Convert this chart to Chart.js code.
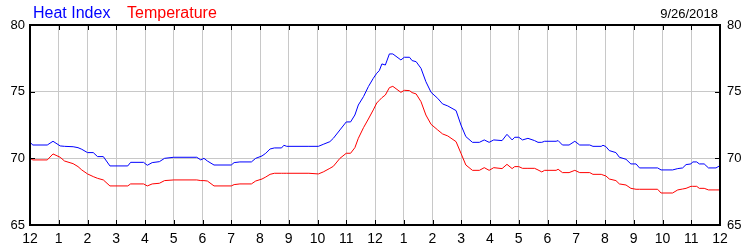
<!DOCTYPE html>
<html>
<head>
<meta charset="utf-8">
<script src="https://cdn.jsdelivr.net/npm/chart.js@4/dist/chart.umd.min.js"></script>
<style>
  html, body { margin: 0; padding: 0; background: #fff; }
  #wrap { width: 750px; height: 250px; }
</style>
</head>
<body>
<div id="wrap"><canvas id="chart" width="750" height="250"></canvas></div>
<script>
// hours since midnight
const hours = [0.0, 0.1, 0.6, 0.8, 1.05, 1.2, 1.5, 1.67, 1.8, 2.0, 2.2, 2.35, 2.55, 2.78, 3.4, 3.5, 3.95, 4.08, 4.25, 4.5, 4.68, 5.0, 5.8, 5.94, 6.05, 6.17, 6.4, 7.0, 7.1, 7.3, 7.7, 7.85, 8.07, 8.2, 8.35, 8.5, 8.75, 8.83, 8.93, 9.7, 10.03, 10.2, 10.43, 10.55, 10.78, 11.0, 11.15, 11.3, 11.42, 11.6, 11.77, 11.94, 12.06, 12.15, 12.24, 12.36, 12.5, 12.62, 12.9, 13.02, 13.2, 13.29, 13.43, 13.6, 13.77, 13.95, 14.18, 14.35, 14.53, 14.82, 14.99, 15.16, 15.39, 15.63, 15.8, 15.97, 16.13, 16.42, 16.59, 16.77, 16.86, 17.0, 17.13, 17.32, 17.55, 17.67, 17.8, 17.9, 18.3, 18.37, 18.52, 18.75, 18.95, 19.12, 19.47, 19.58, 19.87, 19.93, 20.03, 20.15, 20.38, 20.5, 20.73, 20.9, 21.08, 21.2, 21.83, 21.95, 22.35, 22.53, 22.7, 22.82, 22.99, 23.05, 23.19, 23.28, 23.45, 23.6, 23.86, 23.98];

const heatIndex = [71.2, 71.0, 71.0, 71.28, 70.93, 70.9, 70.87, 70.8, 70.68, 70.43, 70.43, 70.13, 70.13, 69.43, 69.43, 69.7, 69.7, 69.48, 69.68, 69.75, 70.0, 70.08, 70.08, 69.88, 70.0, 69.8, 69.5, 69.5, 69.68, 69.73, 69.73, 70.0, 70.18, 70.38, 70.7, 70.78, 70.78, 70.98, 70.9, 70.9, 70.9, 71.05, 71.25, 71.5, 72.13, 72.73, 72.73, 73.25, 74.0, 74.63, 75.38, 76.0, 76.38, 76.58, 77.08, 77.0, 77.83, 77.83, 77.38, 77.58, 77.58, 77.33, 77.25, 76.75, 75.75, 74.95, 74.5, 74.08, 73.93, 73.58, 72.5, 71.63, 71.2, 71.2, 71.38, 71.2, 71.38, 71.33, 71.8, 71.38, 71.58, 71.58, 71.38, 71.5, 71.33, 71.2, 71.2, 71.28, 71.28, 71.33, 71.0, 71.0, 71.28, 71.0, 71.0, 70.9, 70.9, 70.98, 70.88, 70.58, 70.43, 70.08, 69.93, 69.58, 69.58, 69.28, 69.28, 69.13, 69.13, 69.23, 69.28, 69.53, 69.58, 69.73, 69.73, 69.58, 69.58, 69.28, 69.28, 69.43];

const temperature = [70.0, 69.88, 69.88, 70.33, 70.08, 69.8, 69.6, 69.38, 69.13, 68.83, 68.63, 68.5, 68.38, 67.93, 67.93, 68.08, 68.08, 67.93, 68.08, 68.13, 68.33, 68.38, 68.38, 68.33, 68.33, 68.3, 67.93, 67.93, 68.03, 68.08, 68.08, 68.3, 68.45, 68.6, 68.8, 68.88, 68.88, 68.88, 68.88, 68.88, 68.83, 68.98, 69.25, 69.4, 70.0, 70.38, 70.38, 70.8, 71.5, 72.3, 72.95, 73.63, 74.15, 74.35, 74.55, 74.75, 75.3, 75.4, 74.95, 75.1, 75.08, 74.93, 74.83, 74.25, 73.25, 72.55, 72.13, 71.83, 71.68, 71.25, 70.38, 69.5, 69.1, 69.1, 69.3, 69.1, 69.3, 69.23, 69.55, 69.23, 69.38, 69.38, 69.25, 69.25, 69.25, 69.13, 68.98, 69.1, 69.1, 69.18, 68.93, 68.93, 69.1, 68.93, 68.93, 68.8, 68.8, 68.75, 68.68, 68.45, 68.33, 68.08, 68.0, 67.75, 67.68, 67.68, 67.68, 67.4, 67.4, 67.63, 67.7, 67.75, 67.9, 67.9, 67.9, 67.75, 67.75, 67.63, 67.63, 67.63];

const hourLabels = ['12', '1', '2', '3', '4', '5', '6', '7', '8', '9', '10', '11', '12', '1', '2', '3', '4', '5', '6', '7', '8', '9', '10', '11', '12'];
const yTicks = [65, 70, 75, 80];
const dateText = '9/26/2018';

const FONT = '"Liberation Sans", Arial, sans-serif';

function toPoints(vals) {
  return vals.map((v, i) => ({ x: hours[i], y: v }));
}

// frame, inner tick marks, header texts
const framePlugin = {
  id: 'frame',
  beforeDraw(chart) {
    const ctx = chart.ctx;
    ctx.save();
    ctx.fillStyle = '#fff';
    ctx.fillRect(0, 0, chart.width, chart.height);
    ctx.restore();
  },
  afterDraw(chart) {
    const ctx = chart.ctx;
    const a = chart.chartArea;
    const xs = chart.scales.x;
    const ys = chart.scales.y;
    ctx.save();
    ctx.strokeStyle = '#000';
    ctx.lineWidth = 1;
    ctx.beginPath();
    for (let h = 1; h < 24; h++) {
      const px = Math.round(xs.getPixelForValue(h)) + 0.5;
      ctx.moveTo(px, a.top); ctx.lineTo(px, a.top + 5);
      ctx.moveTo(px, a.bottom); ctx.lineTo(px, a.bottom - 5);
    }
    yTicks.slice(1, -1).forEach(v => {
      const py = Math.round(ys.getPixelForValue(v)) + 0.5;
      ctx.moveTo(a.left, py); ctx.lineTo(a.left + 5, py);
      ctx.moveTo(a.right, py); ctx.lineTo(a.right - 5, py);
    });
    ctx.stroke();
    ctx.lineWidth = 2;
    ctx.strokeRect(a.left, a.top, a.right - a.left, a.bottom - a.top);

    ctx.textBaseline = 'alphabetic';
    ctx.font = '16px ' + FONT;
    ctx.fillStyle = '#0000ff';
    ctx.textAlign = 'left';
    ctx.fillText('Heat Index', 33, 18);
    ctx.fillStyle = '#ff0000';
    ctx.fillText('Temperature', 127, 18);
    ctx.font = '13px ' + FONT;
    ctx.fillStyle = '#000';
    ctx.textAlign = 'right';
    ctx.fillText(dateText, 718, 18);
    ctx.restore();
  }
};

new Chart(document.getElementById('chart'), {
  type: 'line',
  data: {
    datasets: [
      {
        label: 'Heat Index',
        data: toPoints(heatIndex),
        borderColor: '#0000ff',
        borderWidth: 1,
        pointRadius: 0,
        tension: 0,
        fill: false
      },
      {
        label: 'Temperature',
        data: toPoints(temperature),
        borderColor: '#ff0000',
        borderWidth: 1,
        pointRadius: 0,
        tension: 0,
        fill: false
      }
    ]
  },
  options: {
    responsive: false,
    animation: false,
    layout: { padding: { top: 25, left: 0, right: 0, bottom: 0 } },
    plugins: {
      legend: { display: false },
      tooltip: { enabled: false }
    },
    scales: {
      x: {
        type: 'linear',
        min: 0,
        max: 24,
        border: { display: false },
        grid: { color: '#c8c8c8', lineWidth: 1, drawTicks: false },
        ticks: {
          stepSize: 1,
          autoSkip: false,
          maxRotation: 0,
          padding: 6,
          color: '#000',
          font: { family: FONT, size: 14 },
          callback: v => hourLabels[v]
        },
        afterFit: s => { s.height = 25; }
      },
      y: {
        position: 'left',
        min: 65,
        max: 80,
        border: { display: false },
        grid: { color: '#c8c8c8', lineWidth: 1, drawTicks: false },
        ticks: {
          stepSize: 5,
          padding: 5,
          color: '#000',
          font: { family: FONT, size: 13 }
        },
        afterFit: s => { s.width = 30; }
      },
      y2: {
        position: 'right',
        min: 65,
        max: 80,
        border: { display: false },
        grid: { display: false, drawTicks: false },
        ticks: {
          stepSize: 5,
          padding: 7,
          color: '#000',
          font: { family: FONT, size: 13 }
        },
        afterFit: s => { s.width = 30; }
      }
    }
  },
  plugins: [framePlugin]
});
</script>
</body>
</html>
